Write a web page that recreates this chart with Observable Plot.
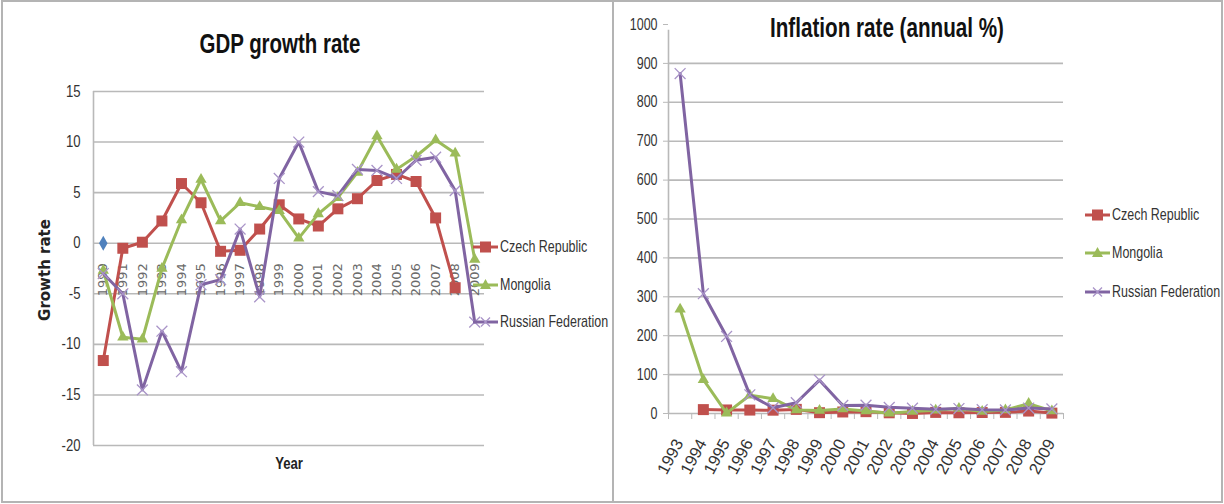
<!DOCTYPE html>
<html><head><meta charset="utf-8">
<script src="https://cdn.jsdelivr.net/npm/d3@7"></script>
<script src="https://cdn.jsdelivr.net/npm/@observablehq/plot@0.6"></script>
<style>
html,body{margin:0;padding:0;background:#fff;}
#wrap{position:relative;width:1224px;height:504px;overflow:hidden;background:#fff;}
.chart{position:absolute;top:0;}
.box{position:absolute;box-sizing:border-box;border:2px solid #b4b4b4;pointer-events:none;}
#overlay{position:absolute;left:0;top:0;pointer-events:none;}
</style></head><body>
<div id="wrap">
  <div id="gdp" class="chart" style="left:0px"></div>
  <div id="inf" class="chart" style="left:612px"></div>
  <div class="box" style="left:1px;top:0;width:613px;height:503px"></div>
  <div class="box" style="left:612px;top:0;width:611px;height:503px"></div>
  <svg id="overlay" width="1224" height="504"></svg>
</div>
<script>
// ---------- data ----------
const countries = ["Czech Republic", "Mongolia", "Russian Federation"];
const colors = ["#C0504D", "#9BBB59", "#8064A2"];

// GDP growth rate (left chart)
const gdpYears = [1990,1991,1992,1993,1994,1995,1996,1997,1998,1999,2000,2001,2002,2003,2004,2005,2006,2007,2008,2009];
const gdpCzech    = [-11.6,-0.5,0.1,2.2,5.9,4.0,-0.8,-0.7,1.4,3.8,2.4,1.7,3.4,4.4,6.2,6.8,6.1,2.5,-4.4,null];
const gdpMongolia = [-2.7,-9.3,-9.5,-2.5,2.3,6.3,2.2,4.0,3.6,3.2,0.5,2.9,4.5,7.0,10.6,7.3,8.6,10.2,8.9,-1.6];
const gdpRussia   = [-3.0,-5.0,-14.5,-8.7,-12.7,-4.1,-3.6,1.4,-5.3,6.4,10.0,5.1,4.7,7.3,7.2,6.4,8.2,8.5,5.2,-7.8];
const gdpYearSeries = [{year: 1990, value: 0}];
const gdpTicks = [-20,-15,-10,-5,0,5,10,15];

// Inflation rate (right chart)
const infYears = [1993,1994,1995,1996,1997,1998,1999,2000,2001,2002,2003,2004,2005,2006,2007,2008,2009];
const infCzech    = [null,10.0,9.1,8.8,8.5,10.6,2.1,3.9,4.7,1.8,0.1,2.8,1.9,2.5,2.9,6.3,1.0];
const infMongolia = [268,87,1,47,38,9,7.6,11.6,6.3,0.9,5.1,8.2,12.7,5.1,9.0,25.5,6.3];
const infRussia   = [874,308,198,48,14.8,27.7,85.7,20.8,21.5,15.8,13.7,10.9,12.7,9.7,9.0,14.1,11.7];
const infTicks = [0,100,200,300,400,500,600,700,800,900,1000];
const infGrid  = [100,200,300,400,500,600,700,800,900];

// ---------- helpers ----------
const sans = "'Liberation Sans',Arimo,Arial,sans-serif";
const gridColor = "#b9b9b9";
const xLavender = "#a994c8";

function tidy(years, series) {
  const rows = [];
  series.forEach((vals, i) => vals.forEach((v, j) => rows.push({country: countries[i], year: years[j], value: v})));
  return rows;
}

function seriesMarks(rows) {
  const marks = [];
  countries.forEach((name, i) => {
    const data = rows.filter(d => d.country === name);
    const pts = data.filter(d => d.value != null);
    marks.push(Plot.line(data, {x: "year", y: "value", stroke: colors[i], strokeWidth: 3, strokeLinejoin: "round"}));
    if (i === 0) marks.push(Plot.dot(pts, {x: "year", y: "value", symbol: "square", r: 6.2, fill: colors[i], stroke: null}));
    if (i === 1) marks.push(Plot.dot(pts, {x: "year", y: "value", symbol: "triangle", r: 4.2, fill: colors[i], stroke: null}));
    if (i === 2) marks.push(Plot.dot(pts, {x: "year", y: "value", symbol: "times", r: 5, fill: "none", stroke: xLavender, strokeWidth: 1.3}));
  });
  return marks;
}

// narrow the text horizontally (Calibri-like look)
function squeeze(svg, selector, sx) {
  d3.select(svg).selectAll(selector).each(function() {
    const t = this.getAttribute("transform") || "";
    this.setAttribute("transform", t + ` scale(${sx},1)`);
  });
}

// ---------- left chart ----------
const gdpRows = tidy(gdpYears, [gdpCzech, gdpMongolia, gdpRussia]);
const gx0 = gdpYears[0] - 0.5, gx1 = gdpYears[gdpYears.length - 1] + 0.5;
const gdpPlot = Plot.plot({
  width: 612, height: 504,
  marginLeft: 93, marginRight: 128, marginTop: 91, marginBottom: 59,
  x: {domain: [gx0, gx1], axis: null},
  y: {domain: [-20, 15]},
  style: {fontFamily: sans, fontSize: "16px", color: "#333", background: "transparent", overflow: "visible"},
  marks: [
    Plot.gridY(gdpTicks, {stroke: gridColor, strokeOpacity: 1, strokeWidth: 1.6}),
    Plot.ruleX([gx0], {stroke: gridColor, strokeWidth: 1.6}),
    Plot.axisY({ticks: gdpTicks, tickSize: 0, tickPadding: 13, tickFormat: d => String(d), fontSize: 16, label: null}),
    Plot.text(gdpYears, {x: d => d, y: () => 0, text: d => String(d), rotate: -90, textAnchor: "end", dy: 20,
      fontFamily: "DejaVu Sans", fontSize: 13, fill: "#6a6a6a"}),
    Plot.dot(gdpYearSeries, {x: "year", y: "value", symbol: "diamond", r: 4.5, fill: "#4F81BD", stroke: null}),
    ...seriesMarks(gdpRows)
  ]
});
squeeze(gdpPlot, "g[aria-label='y-axis tick label'] text", 0.82);
document.getElementById("gdp").appendChild(gdpPlot);

// ---------- right chart ----------
const infRows = tidy(infYears, [infCzech, infMongolia, infRussia]);
const ix0 = infYears[0] - 0.5, ix1 = infYears[infYears.length - 1] + 0.5;
const infBounds = [ix0, ...infYears.map(y => y + 0.5)];
const infPlot = Plot.plot({
  width: 612, height: 504,
  marginLeft: 56, marginRight: 161, marginTop: 24, marginBottom: 91,
  x: {domain: [ix0, ix1]},
  y: {domain: [0, 1000]},
  style: {fontFamily: sans, fontSize: "16px", color: "#333", background: "transparent", overflow: "visible"},
  marks: [
    Plot.gridY(infGrid, {stroke: gridColor, strokeOpacity: 1, strokeWidth: 1.6}),
    Plot.ruleY([0], {stroke: gridColor, strokeWidth: 1.6}),
    Plot.ruleX([ix0], {y1: 0, y2: 985, stroke: gridColor, strokeWidth: 1.6}),
    Plot.axisY({ticks: infTicks, tickSize: 5, tickPadding: 6, stroke: gridColor, tickFormat: d => String(d), fontSize: 16, label: null}),
    Plot.axisX({ticks: infBounds, tickSize: 6, anchor: "bottom", tickFormat: () => "", stroke: gridColor, label: null}),
    Plot.text(infYears, {x: d => d, y: () => 0, text: d => String(d), rotate: -62, textAnchor: "end", dx: -1, dy: 27,
      fontFamily: sans, fontSize: 16.5, fill: "#333"}),
    ...seriesMarks(infRows)
  ]
});
squeeze(infPlot, "g[aria-label='y-axis tick label'] text", 0.78);
document.getElementById("inf").appendChild(infPlot);

// ---------- titles, axis labels, legends ----------
const ov = d3.select("#overlay");
function txt(x, y, s, o = {}) {
  const t = ov.append("text").attr("x", 0).attr("y", 0).text(s)
    .attr("font-family", o.family || sans).attr("font-size", o.size || 15)
    .attr("font-weight", o.weight || "normal").attr("fill", o.fill || "#222")
    .attr("text-anchor", o.anchor || "start")
    .attr("transform", `translate(${x},${y}) rotate(${o.rotate || 0}) scale(${o.sx || 1},1)`);
  if (o.len) t.attr("textLength", o.len).attr("lengthAdjust", "spacingAndGlyphs");
  return t;
}
txt(280, 53, "GDP growth rate", {size: 27, weight: "bold", anchor: "middle", fill: "#111", len: 161});
txt(887, 37, "Inflation rate (annual %)", {size: 27, weight: "bold", anchor: "middle", fill: "#111", len: 234});
txt(50, 270, "Growth rate", {family: "DejaVu Sans", size: 15, weight: "bold", anchor: "middle", rotate: -90, fill: "#222"});
txt(289, 469, "Year", {size: 16, weight: "bold", anchor: "middle", fill: "#222", sx: 0.82});

function legend(x1, x2, ys) {
  countries.forEach((name, i) => {
    const y = ys[i], c = colors[i], cx = (x1 + x2) / 2;
    ov.append("line").attr("x1", x1).attr("x2", x2).attr("y1", y).attr("y2", y).attr("stroke", c).attr("stroke-width", 3);
    if (i === 0) ov.append("rect").attr("x", cx - 5.5).attr("y", y - 5.5).attr("width", 11).attr("height", 11).attr("fill", c);
    if (i === 1) ov.append("path").attr("d", `M${cx},${y - 6}L${cx + 5.5},${y + 4}L${cx - 5.5},${y + 4}Z`).attr("fill", c);
    if (i === 2) ov.append("path").attr("d", `M${cx - 4.5},${y - 4.5}L${cx + 4.5},${y + 4.5}M${cx - 4.5},${y + 4.5}L${cx + 4.5},${y - 4.5}`)
      .attr("stroke", xLavender).attr("stroke-width", 1.3);
    txt(x2 + 2, y + 5, name, {size: 16, fill: "#333", sx: 0.78});
  });
}
legend(473, 498, [247, 285, 322]);
legend(1085, 1110, [215, 253, 292]);
</script>
</body></html>
